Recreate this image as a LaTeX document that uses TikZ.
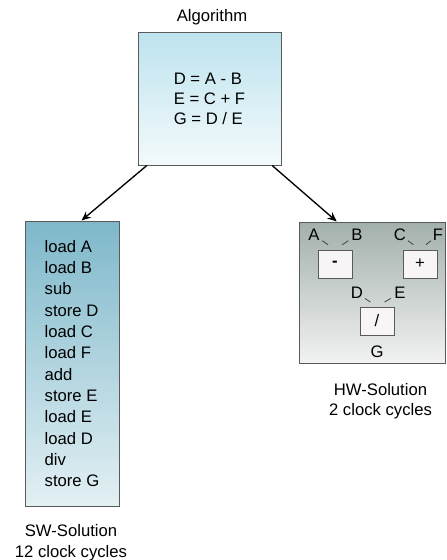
\documentclass[tikz,border=0pt]{standalone}
\usepackage{fontspec}
\setmainfont{Liberation Sans}
\usepackage{tikz}
\usetikzlibrary{arrows.meta, positioning, calc}
\usepackage{xcolor}
\definecolor{algtop}{HTML}{BEE3EE}
\definecolor{algbot}{HTML}{F3FAFC}
\definecolor{swtop}{HTML}{7EB8CA}
\definecolor{swbot}{HTML}{E3F0F4}
\definecolor{hwtop}{HTML}{A2B0AC}
\definecolor{hwbot}{HTML}{F2F2F2}
\definecolor{opfill}{HTML}{F7F5F5}
\definecolor{boxline}{HTML}{5A5A5A}

\begin{document}
\begin{tikzpicture}[
    x=0.75pt, y=-0.75pt,
    box/.style={rectangle, draw=boxline, line width=0.75pt, align=left, inner sep=0pt},
    opbox/.style={rectangle, draw=boxline, fill=opfill, line width=0.75pt, minimum width=25.5pt, minimum height=21pt, inner sep=0pt, font=\fontsize{12.5}{15}\selectfont},
    txt/.style={inner sep=0pt, font=\fontsize{12.5}{15}\selectfont},
    caption/.style={inner sep=0pt, align=center},
    arrow/.style={-{Stealth[length=7pt, width=6pt]}, line width=1pt},
    tick/.style={line width=0.6pt, draw=black!75}
]
\useasboundingbox (0,0) rectangle (446,560);

\node[txt] (algcap) at (212,17) {Algorithm};
\node[box, top color=algtop, bottom color=algbot, minimum width=107.25pt, minimum height=99pt, font=\fontsize{12.5}{15}\selectfont] (alg) at (209.5,99) {D = A - B\\E = C + F\\G = D / E};

\node[box, top color=swtop, bottom color=swbot, minimum width=70.5pt, minimum height=213.75pt, font=\fontsize{12.5}{16}\selectfont] (sw) at (72,363.5) {load A\\load B\\sub\\store D\\load C\\load F\\add\\store E\\load E\\load D\\div\\store G};
\node[caption, font=\fontsize{12.5}{15.75}\selectfont] (swcap) at (71,542.5) {SW-Solution\\12 clock cycles};

\node[box, top color=hwtop, bottom color=hwbot, minimum width=109.5pt, minimum height=105.75pt] (hw) at (372,292.5) {};
\node[caption, font=\fontsize{12.5}{15}\selectfont] (hwcap) at (380.5,401) {HW-Solution\\2 clock cycles};

% operators inside the hardware block
\node[opbox] (minus) at (335,264) {\textbf{-}};
\node[opbox] (plus) at (420,264) {+};
\node[opbox] (slash) at (377,321) {/};

\node[txt] (lblA) at (314,235) {A};
\node[txt] (lblB) at (357,235) {B};
\node[txt] (lblC) at (400,235) {C};
\node[txt] (lblF) at (438,235) {F};
\node[txt] (lblD) at (357,293) {D};
\node[txt] (lblE) at (400,293) {E};
\node[txt] (lblG) at (377,352) {G};

\draw[tick] ($(lblA)!0.4!(minus.north)$) -- ($(lblA)!0.67!(minus.north)$);
\draw[tick] ($(lblB)!0.4!(minus.north)$) -- ($(lblB)!0.67!(minus.north)$);
\draw[tick] ($(lblC)!0.4!(plus.north)$) -- ($(lblC)!0.67!(plus.north)$);
\draw[tick] ($(lblF)!0.4!(plus.north)$) -- ($(lblF)!0.67!(plus.north)$);
\draw[tick] ($(lblD)!0.4!(slash.north)$) -- ($(lblD)!0.67!(slash.north)$);
\draw[tick] ($(lblE)!0.4!(slash.north)$) -- ($(lblE)!0.67!(slash.north)$);

\draw[arrow] ([xshift=7pt]alg.south west) -- ($(sw.north west)!0.6!(sw.north east)$);
\draw[arrow] ([xshift=-7pt]alg.south east) -- ($(hw.north west)!0.26!(hw.north east)$);
\end{tikzpicture}
\end{document}
